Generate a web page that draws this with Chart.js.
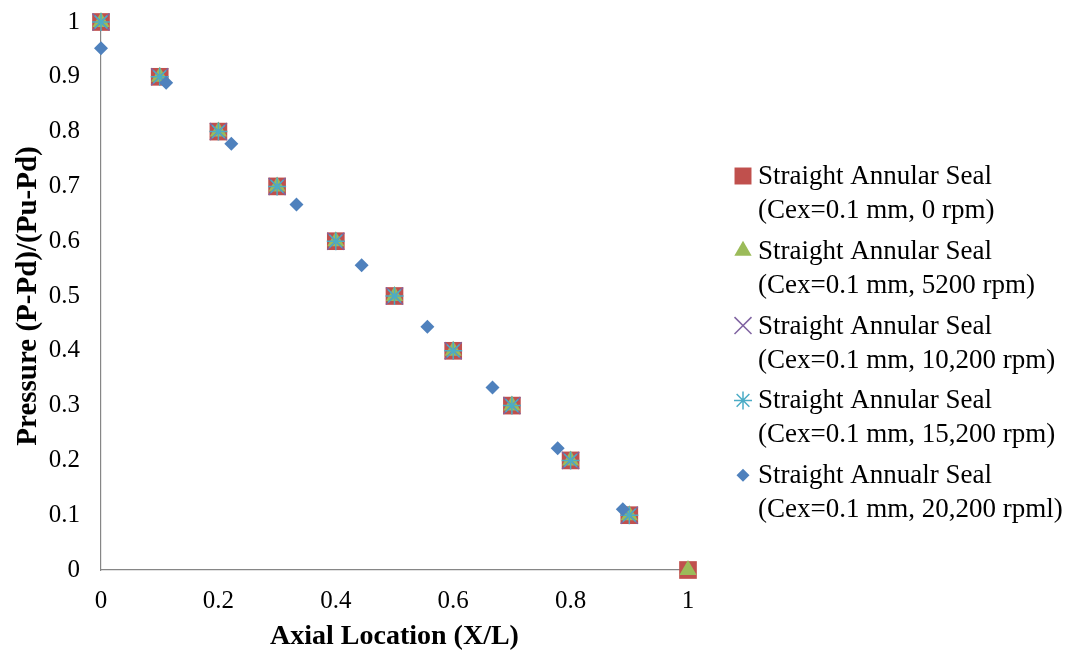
<!DOCTYPE html>
<html lang="en">
<head>
  <meta charset="UTF-8">
  <title>Axial pressure distribution</title>
  <script src="https://cdn.jsdelivr.net/npm/chart.js"></script>
  <style>
    html, body { margin: 0; padding: 0; background: #fff; }
    #wrap { width: 1071px; height: 656px; }
  </style>
</head>
<body>
  <div id="wrap"><canvas id="pressureChart" width="1071" height="656"></canvas></div>

  <script>
    // data
    const xSeal = [0, 0.1, 0.2, 0.3, 0.4, 0.5, 0.6, 0.7, 0.8, 0.9, 1];
    const p0rpm = [1, 0.9, 0.8, 0.7, 0.6, 0.5, 0.4, 0.3, 0.2, 0.1, 0];
    const p5200 = [1, 0.9, 0.8, 0.7, 0.6, 0.5, 0.4, 0.3, 0.2, 0.1, 0];
    const x10200 = [0, 0.1, 0.2, 0.3, 0.4, 0.5, 0.6, 0.7, 0.8, 0.9];
    const p10200 = [1, 0.9, 0.8, 0.7, 0.6, 0.5, 0.4, 0.3, 0.2, 0.1];
    const p15200 = [1, 0.9, 0.8, 0.7, 0.6, 0.5, 0.4, 0.3, 0.2, 0.1];
    const x20200 = [0, 0.111, 0.222, 0.333, 0.444, 0.556, 0.667, 0.778, 0.889];
    const p20200 = [0.952, 0.889, 0.778, 0.667, 0.556, 0.444, 0.333, 0.222, 0.111];

    const seriesNames = [
      ['Straight Annular Seal', '(Cex=0.1 mm, 0 rpm)'],
      ['Straight Annular Seal', '(Cex=0.1 mm, 5200 rpm)'],
      ['Straight Annular Seal', '(Cex=0.1 mm, 10,200 rpm)'],
      ['Straight Annular Seal', '(Cex=0.1 mm, 15,200 rpm)'],
      ['Straight Annualr Seal', '(Cex=0.1 mm, 20,200 rpml)']
    ];

    function pts(xs, ys) {
      return xs.map((x, i) => ({ x: x, y: ys[i] }));
    }

    const serif = '"Liberation Serif", "Times New Roman", serif';
    const tickText = v => String(+Number(v).toFixed(1));

    const datasets = [
      { data: pts(xSeal, p0rpm), pointStyle: 'rect', pointRadius: 12.5, color: '#C0504D', bw: 0, lr: 12, order: 5 },
      { data: pts(xSeal, p5200), pointStyle: 'triangle', pointRadius: 10, color: '#9BBB59', bw: 0, lr: 10, order: 4 },
      { data: pts(x10200, p10200), pointStyle: 'crossRot', pointRadius: 12, color: '#8064A2', bw: 1.5, lr: 12, order: 3 },
      { data: pts(x10200, p15200), pointStyle: 'star', pointRadius: 9, color: '#4BACC6', bw: 1.5, lr: 9, order: 2 },
      { data: pts(x20200, p20200), pointStyle: 'rectRot', pointRadius: 7, color: '#4F81BD', bw: 0, lr: 6.5, order: 1 }
    ].map((d, i) => ({
      label: seriesNames[i].join(' '),
      data: d.data,
      order: d.order,
      clip: false,
      showLine: false,
      pointStyle: d.pointStyle,
      pointRadius: d.pointRadius,
      pointHoverRadius: d.pointRadius,
      pointBackgroundColor: d.color,
      pointBorderColor: d.color,
      pointBorderWidth: d.bw,
      legendRadius: d.lr
    }));

    // two-line legend at the right, drawn on the canvas
    const sideLegend = {
      id: 'sideLegend',
      afterDraw(chart) {
        const ctx = chart.ctx;
        ctx.save();
        ctx.font = '27px ' + serif;
        ctx.fillStyle = '#000';
        ctx.textBaseline = 'middle';
        ctx.textAlign = 'left';
        chart.data.datasets.forEach((ds, i) => {
          const y = 176 + i * 74.8;
          ctx.save();
          ctx.fillStyle = ds.pointBackgroundColor;
          ctx.strokeStyle = ds.pointBorderColor;
          ctx.lineWidth = ds.pointBorderWidth || 1;
          Chart.helpers.drawPoint(ctx, {
            pointStyle: ds.pointStyle,
            radius: ds.legendRadius,
            rotation: 0,
            borderWidth: ds.pointBorderWidth
          }, 743, y);
          ctx.restore();
          ctx.fillText(seriesNames[i][0], 758, y + 1);
          ctx.fillText(seriesNames[i][1], 758, y + 35);
        });
        ctx.restore();
      }
    };

    new Chart(document.getElementById('pressureChart'), {
      type: 'scatter',
      data: { datasets: datasets },
      plugins: [sideLegend],
      options: {
        responsive: false,
        animation: false,
        layout: { padding: { top: 22, right: 383, left: 0, bottom: 0 } },
        plugins: {
          legend: { display: false },
          tooltip: { enabled: false }
        },
        scales: {
          x: {
            type: 'linear',
            min: 0,
            max: 1,
            afterFit: s => { s.height = 86; s.paddingLeft = 0; s.paddingRight = 0; },
            grid: { display: false, drawTicks: false },
            border: { display: true, color: '#868686', width: 1.2 },
            ticks: {
              stepSize: 0.2,
              padding: 16,
              color: '#000',
              maxRotation: 0,
              callback: tickText,
              font: { family: serif, size: 25 }
            },
            title: {
              display: true,
              text: 'Axial Location (X/L)',
              color: '#000',
              padding: { top: 0, bottom: 2 },
              font: { family: serif, size: 28, weight: 'bold' }
            }
          },
          y: {
            type: 'linear',
            min: 0,
            max: 1,
            afterFit: s => { s.width = 101; s.paddingTop = 0; s.paddingBottom = 0; },
            grid: { display: false, drawTicks: false },
            border: { display: true, color: '#868686', width: 1.2 },
            ticks: {
              stepSize: 0.1,
              padding: 21,
              color: '#000',
              callback: tickText,
              font: { family: serif, size: 25 }
            },
            title: {
              display: true,
              text: 'Pressure (P-Pd)/(Pu-Pd)',
              color: '#000',
              padding: { top: 11, bottom: 0 },
              font: { family: serif, size: 29, weight: 'bold' }
            }
          }
        }
      }
    });
  </script>
</body>
</html>
